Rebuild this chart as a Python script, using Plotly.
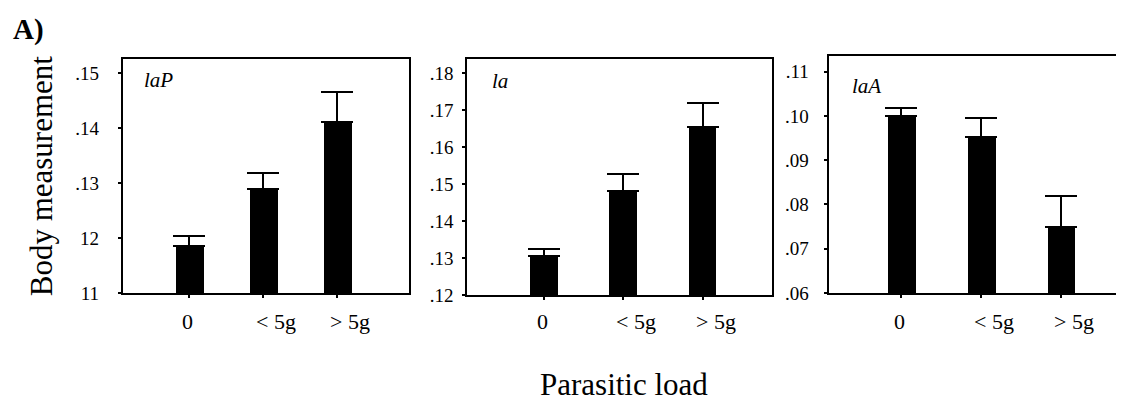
import plotly.graph_objects as go

W, H = 1124, 404

# parasitic load groups
categories = ["0", "< 5g", "> 5g"]

# laP panel
laP_mean = [0.1185, 0.1289, 0.1411]
laP_se = [0.0019, 0.0029, 0.0055]
laP_ticks = [0.11, 0.12, 0.13, 0.14, 0.15]
laP_ticktext = ["11", "12", ".13", ".14", ".15"]

# la panel
la_mean = [0.1305, 0.1482, 0.1653]
la_se = [0.0018, 0.0044, 0.0065]
la_ticks = [0.12, 0.13, 0.14, 0.15, 0.16, 0.17, 0.18]
la_ticktext = [".12", ".13", ".14", ".15", ".16", ".17", ".18"]

# laA panel
laA_mean = [0.1000, 0.0953, 0.0748]
laA_se = [0.0018, 0.0043, 0.0071]
laA_ticks = [0.06, 0.07, 0.08, 0.09, 0.10, 0.11]
laA_ticktext = [".06", ".07", ".08", ".09", ".10", ".11"]

FONT = "Liberation Serif"


def px_x(v):
    return v / W


def px_y(v):
    return 1 - v / H


panels = [
    # name, mean, se, ticks, ticktext, yrange, xrange, frame px (l, r, top, bottom),
    # bar width, label pos, tick label standoff
    ("laP", laP_mean, laP_se, laP_ticks, laP_ticktext, [0.11, 0.1527], [-0.9, 2.97],
     (115, 402, 52, 293), 0.38, (134, 60), 15),
    ("la", la_mean, la_se, la_ticks, la_ticktext, [0.12, 0.1839], [-0.97, 2.87],
     (460, 765, 52, 295), 0.35, (483, 61), 5),
    ("laA", laA_mean, laA_se, laA_ticks, laA_ticktext, [0.06, 0.1136], [-0.91, 2.86],
     (822, 1124, 49, 293), 0.345, (843, 66), 11),
]

fig = go.Figure()
annotations = []

for i, (name, mean, se, ticks, ticktext, yr, xr, frame, bw, lab, stand) in enumerate(panels):
    n = i + 1
    xa = "x" if n == 1 else f"x{n}"
    ya = "y" if n == 1 else f"y{n}"
    l, r, t, b = frame
    fig.add_trace(go.Bar(
        x=list(range(len(categories))), y=mean,
        width=bw,
        marker=dict(color="black", line=dict(width=0)),
        error_y=dict(type="data", array=se, arrayminus=[0] * len(se),
                     symmetric=False, color="black", thickness=2, width=16),
        xaxis=xa, yaxis=ya, showlegend=False,
    ))
    xkey = "xaxis" if n == 1 else f"xaxis{n}"
    ykey = "yaxis" if n == 1 else f"yaxis{n}"
    fig.update_layout({
        xkey: dict(domain=[px_x(l), min(px_x(r), 1.0)], range=xr, anchor=ya,
                   showline=True, linecolor="black", linewidth=2, mirror=True,
                   ticks="outside", ticklen=3, tickwidth=2, tickcolor="black",
                   tickvals=list(range(len(categories))), showticklabels=False,
                   showgrid=False, zeroline=False, fixedrange=True),
        ykey: dict(domain=[px_y(b), px_y(t)], range=yr, anchor=xa,
                   showline=True, linecolor="black", linewidth=2, mirror=True,
                   ticks="outside", ticklen=3, tickwidth=2, tickcolor="black",
                   tickvals=ticks, ticktext=ticktext, ticklabelstandoff=stand,
                   tickfont=dict(family=FONT, size=19, color="black"),
                   showgrid=False, zeroline=False, fixedrange=True),
    })
    # panel label
    annotations.append(dict(
        text=f"<i>{name}</i>", xref="paper", yref="paper",
        x=px_x(lab[0]), y=px_y(lab[1]), xanchor="left", yanchor="top",
        showarrow=False, font=dict(family=FONT, size=21, color="black"),
    ))
    # category labels, left-aligned at the tick like the original
    for j, c in enumerate(categories):
        annotations.append(dict(
            text=c, xref=xa, yref="paper", x=j, y=px_y(322),
            xanchor="left", yanchor="middle", xshift=-9,
            showarrow=False, font=dict(family=FONT, size=22, color="black"),
        ))

annotations += [
    dict(text="Body measurement", xref="paper", yref="paper",
         x=px_x(33), y=px_y(172), textangle=-90, xanchor="center", yanchor="middle",
         showarrow=False, font=dict(family=FONT, size=31, color="black")),
    dict(text="Parasitic load", xref="paper", yref="paper",
         x=px_x(617), y=px_y(387), xanchor="center", yanchor="middle",
         showarrow=False, font=dict(family=FONT, size=31, color="black")),
    dict(text="<b>A)</b>", xref="paper", yref="paper",
         x=px_x(3), y=px_y(3), xanchor="left", yanchor="top",
         showarrow=False, font=dict(family=FONT, size=29, color="black")),
]

fig.update_layout(
    width=W, height=H,
    margin=dict(l=0, r=0, t=0, b=0),
    paper_bgcolor="white", plot_bgcolor="white",
    font=dict(family=FONT, color="black"),
    annotations=annotations,
    bargap=0,
)

fig.write_html("out.html", config={"displayModeBar": False})
